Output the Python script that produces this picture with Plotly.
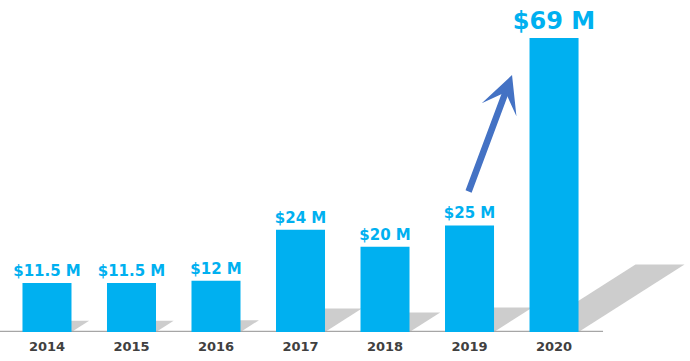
import plotly.graph_objects as go

years = ["2014", "2015", "2016", "2017", "2018", "2019", "2020"]
revenue_musd = [11.5, 11.5, 12, 24, 20, 25, 69]

BAR_COLOR = "#00B0F0"
SHADOW_COLOR = "#CDCDCD"
ARROW_COLOR = "#4472C4"

xpos = list(range(len(years)))
labels = [f"${v:g} M" for v in revenue_musd]
label_sizes = [24 if v == max(revenue_musd) else 15 for v in revenue_musd]

bar_w = 0.58
shadow_h_ratio = 0.23
shear_per_unit = 1.254 / 69.0

fig = go.Figure()
fig.add_trace(go.Bar(
    x=xpos, y=revenue_musd, width=bar_w,
    marker=dict(color=BAR_COLOR, line=dict(width=0)),
    text=labels, textposition="outside", constraintext="none",
    textfont=dict(family="DejaVu Sans", size=label_sizes, color=BAR_COLOR, weight="bold"),
    cliponaxis=False, hoverinfo="skip",
))

shapes = []
for x, v in zip(xpos, revenue_musd):
    h = v * shadow_h_ratio
    s = v * shear_per_unit
    x0, x1 = x - bar_w / 2, x + bar_w / 2
    path = f"M {x0},0 L {x1},0 L {x1 + s},{h} L {x0 + s},{h} Z"
    shapes.append(dict(type="path", path=path, xref="x", yref="y",
                       fillcolor=SHADOW_COLOR, line=dict(width=0), layer="below"))

shapes.append(dict(type="line", xref="x", yref="y", x0=-0.556, x1=6.58, y0=0, y1=0,
                   line=dict(color="#A6A6A6", width=2.5), layer="below"))

ymax = 69 * 332 / 294
fig.update_layout(
    width=690, height=361,
    margin=dict(l=0, r=0, t=0, b=29),
    paper_bgcolor="white", plot_bgcolor="white",
    showlegend=False,
    shapes=shapes,
    xaxis=dict(range=[-0.556, 7.609], tickvals=xpos, ticktext=years,
               showgrid=False, zeroline=False, showline=False, ticks="",
               ticklabelstandoff=5, automargin=False,
               tickfont=dict(family="DejaVu Sans", size=13, color="#404040", weight="bold")),
    yaxis=dict(range=[0, ymax], visible=False, showgrid=False, zeroline=False),
    annotations=[dict(
        x=5.503, y=(332 - 75) / 332 * ymax, xref="x", yref="y",
        ax=-44, ay=118, axref="pixel", ayref="pixel",
        showarrow=True, arrowhead=3, arrowwidth=6.5, arrowsize=0.95,
        arrowcolor=ARROW_COLOR, text="", standoff=0,
    )],
)

fig.write_html("out.html", config={"displayModeBar": False},
               post_script="document.body.style.margin='0';")
